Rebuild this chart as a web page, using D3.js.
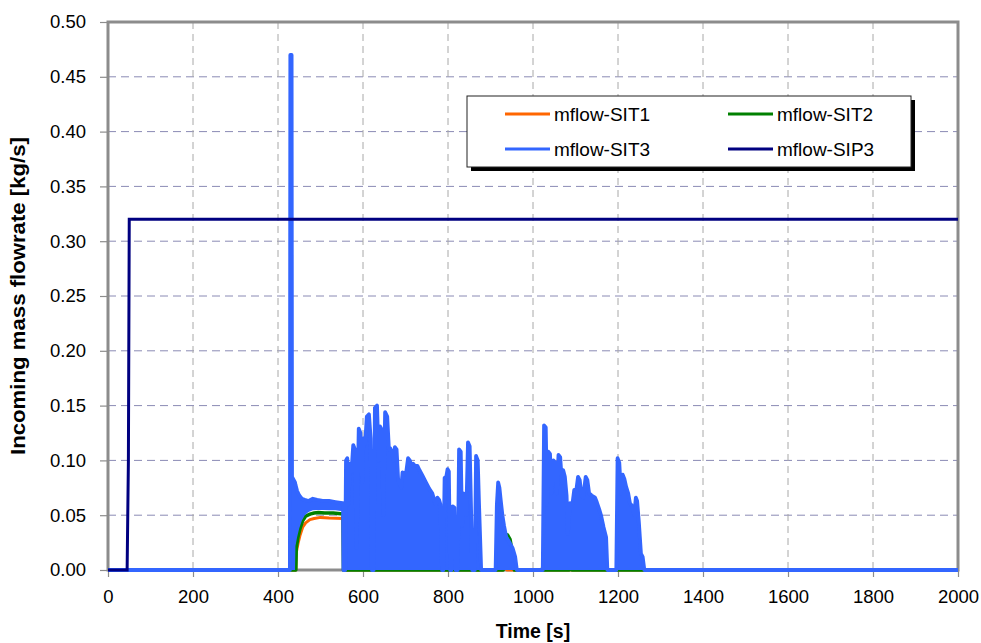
<!DOCTYPE html>
<html>
<head>
<meta charset="utf-8">
<script src="https://cdn.jsdelivr.net/npm/d3@7"></script>
<style>
  html, body { margin: 0; padding: 0; background: #fff; }
  svg { display: block; font-family: "Liberation Sans", Arial, sans-serif; }
</style>
</head>
<body>
<svg id="chart" width="981" height="643"></svg>
<script>
// ---------------- data ----------------
const xTicks = [0, 200, 400, 600, 800, 1000, 1200, 1400, 1600, 1800, 2000];
const yTicks = [0, 0.05, 0.10, 0.15, 0.20, 0.25, 0.30, 0.35, 0.40, 0.45, 0.50];
const seriesNames = ["mflow-SIT1", "mflow-SIT2", "mflow-SIT3", "mflow-SIP3"];

// SIT1 (orange)
const sit1Time = [0, 442, 443, 447, 452, 458, 465, 475, 485, 500, 520, 553, 554,
  808, 811, 814, 930, 934, 938, 1085, 1087, 1090, 2000];
const sit1Val = [0, 0, 0.016, 0.024, 0.032, 0.039, 0.043, 0.046, 0.047, 0.048, 0.0475, 0.047, 0,
  0, 0.014, 0, 0, 0.02, 0, 0, 0.008, 0, 0];

// SIT2 (green)
const sit2Time = [0, 442, 443, 447, 452, 458, 465, 475, 485, 495, 510, 530, 553, 554,
  563, 565, 567, 810, 813, 816, 838, 840, 842, 930, 934, 940, 946, 952, 956,
  1022, 1025, 1027, 1085, 1088, 1092, 1198, 1200, 1202, 2000];
const sit2Val = [0, 0, 0.020, 0.030, 0.038, 0.045, 0.049, 0.051, 0.052, 0.0525, 0.052, 0.052, 0.051, 0,
  0, 0.006, 0, 0, 0.012, 0, 0, 0.01, 0, 0, 0.03, 0.032, 0.028, 0.015, 0,
  0, 0.01, 0, 0, 0.016, 0, 0, 0.008, 0, 0];

// SIT3 (blue) – envelope of the fast oscillation: upper and lower bound
const sit3Time = [0, 428, 429, 432, 433, 440, 441, 445, 450, 456, 463, 472, 482, 492, 505, 520, 535, 552, 553,
  554, 558, 560, 563, 566, 569, 573, 577, 581, 585, 590, 594, 598, 601, 605, 609, 614, 618, 621, 625,
  628, 633, 637, 640, 644, 648, 652, 657, 661, 664, 668, 672, 675, 679, 683, 686, 690, 693, 697, 702,
  706, 710, 714, 718, 722, 728, 733, 740, 748, 756, 763, 769, 772, 775, 779, 782, 786, 789, 792, 796,
  799, 802, 805, 808, 811, 815, 818, 823, 826, 830, 833, 836, 840, 843, 847, 851, 854, 857, 863, 866,
  870, 873, 878, 912, 915, 918, 921, 924, 928, 932, 937, 945, 952, 958, 962,
  1023, 1026, 1030, 1033, 1036, 1040, 1044, 1048, 1052, 1056, 1060, 1064, 1068, 1071, 1075, 1079, 1082,
  1087, 1092, 1097, 1101, 1106, 1110, 1114, 1118, 1124, 1128, 1132, 1138, 1146, 1150, 1156, 1160, 1166,
  1172, 1175, 1196, 1199, 1203, 1207, 1211, 1215, 1219, 1224, 1228, 1234, 1238, 1242, 1245, 1249, 1254,
  1258, 1262, 2000];
const sit3Hi = [0, 0, 0.47, 0.47, 0.085, 0.080, 0.078, 0.072, 0.068, 0.065, 0.064, 0.063, 0.065, 0.064, 0.063, 0.063, 0.062, 0.061, 0.061,
  0, 0, 0.100, 0.102, 0.060, 0.097, 0.090, 0.114, 0.110, 0.020, 0.129, 0.125, 0.080, 0.120, 0.115, 0.140, 0.142, 0.120, 0, 0,
  0.148, 0.150, 0.100, 0.131, 0.128, 0.050, 0.144, 0.140, 0.110, 0.111, 0.108, 0.100, 0.112, 0.110, 0.080, 0.079, 0.075, 0.089, 0.087, 0.090,
  0.102, 0.100, 0.095, 0.097, 0.095, 0.095, 0.091, 0.086, 0.080, 0.074, 0.070, 0.062, 0.060, 0.066, 0.064, 0.060, 0, 0, 0.084, 0.085,
  0.092, 0.090, 0, 0, 0.058, 0.057, 0, 0, 0.110, 0.108, 0.040, 0.070, 0.068, 0.050, 0.1165, 0.113, 0.060, 0, 0, 0.104,
  0.100, 0.060, 0, 0, 0.060, 0.080, 0.075, 0.064, 0.050, 0.040, 0.030, 0.025, 0.020, 0.012, 0,
  0, 0.132, 0.130, 0.060, 0.108, 0.106, 0.070, 0.100, 0.098, 0.070, 0.105, 0.103, 0.080, 0.091, 0.085, 0.068, 0.033,
  0.061, 0.058, 0.073, 0.070, 0.085, 0.082, 0.068, 0.066, 0.085, 0.082, 0.070, 0.068, 0.066, 0.062, 0.055, 0.050, 0.039,
  0.030, 0, 0, 0.102, 0.098, 0.070, 0.087, 0.083, 0.076, 0.070, 0.061, 0.058, 0.050, 0.066, 0.063, 0.044, 0.015,
  0.012, 0, 0];
const sit3Lo = [0, 0, 0, 0, 0, 0, 0.022, 0.030, 0.038, 0.045, 0.050, 0.053, 0.0545, 0.0548, 0.0548, 0.0545, 0.0545, 0.0535, 0.0535,
  0, 0, 0, 0, 0, 0, 0, 0, 0, 0, 0, 0, 0, 0, 0, 0, 0, 0, 0, 0,
  0, 0, 0, 0, 0, 0, 0, 0, 0, 0, 0, 0, 0, 0, 0, 0, 0, 0, 0, 0,
  0, 0, 0, 0, 0, 0, 0, 0, 0, 0, 0, 0, 0, 0, 0, 0, 0, 0, 0, 0,
  0, 0, 0, 0, 0, 0, 0, 0, 0, 0, 0, 0, 0, 0, 0, 0, 0, 0, 0, 0,
  0, 0, 0, 0, 0, 0, 0, 0, 0, 0, 0, 0, 0, 0, 0,
  0, 0, 0, 0, 0, 0, 0, 0, 0, 0, 0, 0, 0, 0, 0, 0, 0,
  0, 0, 0, 0, 0, 0, 0, 0, 0, 0, 0, 0, 0, 0, 0, 0, 0,
  0, 0, 0, 0, 0, 0, 0, 0, 0, 0, 0, 0, 0, 0, 0, 0, 0,
  0, 0, 0];

// SIP3 (navy)
const sip3Time = [0, 45, 48, 50, 2000];
const sip3Val = [0, 0, 0.10, 0.32, 0.32];

// ---------------- layout ----------------
const colors = { sit1: "#FF6600", sit2: "#008000", sit3: "#3366FF", sip3: "#000080" };
const margin = { left: 108, top: 22, right: 23, bottom: 73 };
const W = 981, H = 643;
const pw = W - margin.left - margin.right;
const ph = H - margin.top - margin.bottom;

const svg = d3.select("#chart");
const g = svg.append("g").attr("transform", `translate(${margin.left},${margin.top})`);

const x = d3.scaleLinear().domain([0, 2000]).range([0, pw]);
const y = d3.scaleLinear().domain([0, 0.5]).range([ph, 0]);

// gridlines
g.append("g").selectAll("line.hg").data(yTicks.filter(d => d > 0 && d < 0.5)).join("line")
  .attr("x1", 0).attr("x2", pw).attr("y1", d => y(d)).attr("y2", d => y(d))
  .attr("stroke", "#8a8ab4").attr("stroke-width", 1).attr("stroke-dasharray", "8,5");
g.append("g").selectAll("line.vg").data(xTicks.filter(d => d > 0 && d < 2000)).join("line")
  .attr("x1", d => x(d)).attr("x2", d => x(d)).attr("y1", 0).attr("y2", ph)
  .attr("stroke", "#a8a8a8").attr("stroke-width", 1).attr("stroke-dasharray", "7,5");

// frame (drawn beneath the series)
g.append("rect").attr("x", 0).attr("y", 0).attr("width", pw).attr("height", ph)
  .attr("fill", "none").attr("stroke", "#8c8c8c").attr("stroke-width", 3);

// axes
const yAxis = g.append("g").call(d3.axisLeft(y).tickValues(yTicks).tickSize(8).tickPadding(14).tickFormat(d3.format(".2f")));
const xAxis = g.append("g").attr("transform", `translate(0,${ph})`)
  .call(d3.axisBottom(x).tickValues(xTicks).tickSize(7).tickPadding(13).tickFormat(d3.format("d")));
[yAxis, xAxis].forEach(a => {
  a.select(".domain").remove();
  a.selectAll(".tick line").attr("stroke", "#8c8c8c").attr("stroke-width", 1.2);
  a.selectAll(".tick text").attr("fill", "#000").style("font-size", "18.5px")
    .style("font-family", "'Liberation Sans', Arial, sans-serif");
});

// series
const zip = (t, v) => t.map((d, i) => [d, v[i]]);
const line = d3.line().x(d => x(d[0])).y(d => y(d[1]));

g.append("path").datum(zip(sit1Time, sit1Val)).attr("d", line)
  .attr("fill", "none").attr("stroke", colors.sit1).attr("stroke-width", 3).attr("stroke-linejoin", "round");
g.append("path").datum(zip(sit2Time, sit2Val)).attr("d", line)
  .attr("fill", "none").attr("stroke", colors.sit2).attr("stroke-width", 3.5).attr("stroke-linejoin", "round");

const sit3Data = sit3Time.map((t, i) => ({ t, hi: sit3Hi[i], lo: sit3Lo[i] }));
g.append("path").datum(sit3Data)
  .attr("d", d3.area().x(d => x(d.t)).y0(d => y(d.lo)).y1(d => y(d.hi)))
  .attr("fill", colors.sit3).attr("stroke", "none");
g.append("path").datum(sit3Data)
  .attr("d", d3.line().x(d => x(d.t)).y(d => y(d.hi)))
  .attr("fill", "none").attr("stroke", colors.sit3).attr("stroke-width", 3.8).attr("stroke-linejoin", "round");

g.append("path").datum(zip(sip3Time, sip3Val)).attr("d", line)
  .attr("fill", "none").attr("stroke", colors.sip3).attr("stroke-width", 3);

// axis titles
svg.append("text").attr("x", margin.left + pw / 2).attr("y", 638).attr("text-anchor", "middle")
  .style("font-size", "19.5px").style("font-weight", "bold").text("Time [s]");
svg.append("text").attr("transform", `translate(25,${margin.top + ph / 2}) rotate(-90)`)
  .attr("text-anchor", "middle").style("font-size", "19.5px").style("font-weight", "bold")
  .attr("textLength", 318).attr("lengthAdjust", "spacingAndGlyphs")
  .text("Incoming mass flowrate [kg/s]");

// legend
const lg = svg.append("g").attr("transform", "translate(467,96)");
const lw = 444, lh = 71;
lg.append("rect").attr("x", 4).attr("y", 4).attr("width", lw).attr("height", lh).attr("fill", "#000");
lg.append("rect").attr("x", 0).attr("y", 0).attr("width", lw).attr("height", lh)
  .attr("fill", "#fff").attr("stroke", "#222").attr("stroke-width", 1);
const legendColors = [colors.sit1, colors.sit2, colors.sit3, colors.sip3];
seriesNames.forEach((name, i) => {
  const cx = (i % 2) * 223, cy = i < 2 ? 18 : 53;
  lg.append("line").attr("x1", cx + 38).attr("x2", cx + 83).attr("y1", cy).attr("y2", cy)
    .attr("stroke", legendColors[i]).attr("stroke-width", 3);
  lg.append("text").attr("x", cx + 87).attr("y", cy + 7).style("font-size", "19px").text(name);
});
</script>
</body>
</html>
